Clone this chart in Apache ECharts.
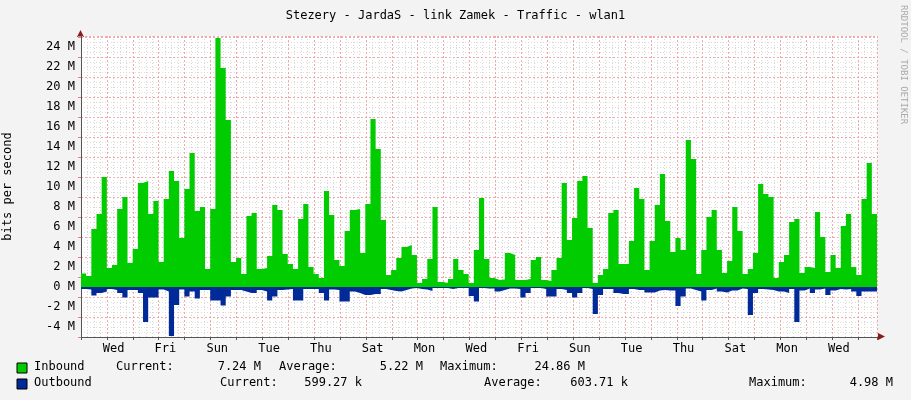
<!DOCTYPE html>
<html>
<head>
<meta charset="utf-8">
<script src="https://cdn.jsdelivr.net/npm/echarts@6/dist/echarts.min.js"></script>
<style>
  html, body { margin: 0; padding: 0; background: #f3f3f3; }
  #chart { width: 911px; height: 400px; }
</style>
</head>
<body>
<div id="chart"></div>
<script>
// values in Mbit/s, one per rrd step (about 4.9 h)
var inbound = [
  1.35, 1.1, 5.8, 7.3, 11.0, 1.9, 2.2, 7.8, 9.0, 2.4, 3.8, 10.4, 10.6, 7.3, 8.6, 2.5, 8.8, 11.6, 10.6, 4.9,
  9.8, 13.4, 7.6, 8.0, 1.8, 7.8, 24.9, 21.9, 16.7, 2.5, 2.9, 1.3, 7.1, 7.4, 1.8, 1.9, 3.1, 8.2, 7.7,
  3.3, 2.3, 1.8, 6.8, 8.3, 2.0, 1.3, 0.9, 9.6, 7.2, 2.7, 2.1, 5.6, 7.7, 7.8, 3.4, 8.3, 16.8, 13.8, 6.7,
  1.2, 1.7, 2.9, 4.0, 4.2, 3.2, 0.4, 0.8, 2.8, 8.0, 0.5, 0.4, 0.8, 2.8, 1.7, 1.3, 0.4, 3.7,
  8.9, 2.8, 0.9, 0.7, 0.75, 3.4, 3.2, 0.7, 0.7, 0.8, 2.7, 3.0, 0.7, 0.6, 1.7, 2.9, 10.4, 4.7, 6.9, 10.6,
  11.1, 5.9, 0.4, 1.2, 1.8, 7.4, 7.7, 2.3, 2.3, 4.6, 9.9, 8.8, 1.7, 4.6, 8.2, 11.3, 6.6, 3.5, 4.9,
  3.7, 14.7, 12.8, 1.3, 3.7, 7.0, 7.7, 3.7, 1.4, 2.6, 8.0, 5.6, 1.3, 1.8, 3.4, 10.3, 9.3, 9.0, 0.9,
  2.5, 3.2, 6.5, 6.8, 1.4, 2.0, 1.9, 7.5, 5.0, 1.5, 3.2, 1.9, 6.1, 7.3, 2.0, 1.2, 8.8, 12.4, 7.3
];
var outbound = [
  -0.2, -0.25, -0.85, -0.6, -0.45, -0.2, -0.3, -0.6, -1.05, -0.3, -0.3, -0.6, -3.5, -1.05, -1.05, -0.25,
  -0.45, -4.9, -1.8, -0.25, -0.95, -0.45, -1.15, -0.3, -0.3, -1.35, -1.35, -1.85, -0.95, -0.3, -0.3, -0.45,
  -0.6, -0.6, -0.3, -0.45, -1.35, -0.95,
  -0.3, -0.25, -0.2, -1.35, -1.35, -0.2, -0.2, -0.2, -0.6, -1.35, -0.25, -0.3, -1.45, -1.45, -0.45, -0.6,
  -0.8, -0.8, -0.7, -0.7, -0.2, -0.3, -0.4, -0.45, -0.3, -0.15, -0.1, -0.2, -0.25, -0.4, -0.1, -0.1, -0.1,
  -0.2, -0.1, -0.1, -0.1,
  -0.9, -1.45, -0.1, -0.15, -0.15, -0.45, -0.3, -0.15, -0.15, -0.2, -1.05, -0.6, -0.1, -0.1, -0.2, -0.95,
  -0.95, -0.2, -0.3, -0.6, -1.05, -0.6, -0.1, -0.2, -2.7, -0.8, -0.2, -0.2, -0.6, -0.7, -0.7, -0.2, -0.3,
  -0.3, -0.55, -0.55, -0.35, -0.3, -0.35,
  -0.35, -1.9, -0.95, -0.15, -0.3, -0.45, -1.35, -0.3, -0.15, -0.45, -0.55, -0.35, -0.35, -0.15, -0.2,
  -2.8, -0.6, -0.2, -0.25, -0.3, -0.45, -0.45, -0.6, -0.2, -3.5, -0.35, -0.15, -0.6, -0.25, -0.15, -0.8,
  -0.35, -0.2, -0.25, -0.2, -0.45, -0.9, -0.45
];
var dayLabels = ['Wed', 'Fri', 'Sun', 'Tue', 'Thu', 'Sat', 'Mon', 'Wed', 'Fri', 'Sun', 'Tue', 'Thu', 'Sat', 'Mon', 'Wed'];
var yTicks = [-4, -2, 0, 2, 4, 6, 8, 10, 12, 14, 16, 18, 20, 22, 24];

var xMin = -0.76, xMax = 29.97;
var step = (xMax - xMin) / inbound.length;

function stepData(vals) {
  var d = vals.map(function (v, i) { return [xMin + i * step, v]; });
  d.push([xMax, vals[vals.length - 1]]);
  return d;
}
var labelPos = dayLabels.map(function (d, i) { return 0.5 + 2 * i; });

var mono = 'DejaVu Sans Mono';
var chart = echarts.init(document.getElementById('chart'));

function txt(x, y, s, align) {
  return { type: 'text', left: align === 'right' ? null : x, right: align === 'right' ? 911 - x : null, top: y,
    style: { text: s, font: '12px "DejaVu Sans Mono"', fill: '#000' } };
}

chart.setOption({
  backgroundColor: '#f3f3f3',
  animation: false,
  title: {
    text: 'Stezery - JardaS - link Zamek - Traffic - wlan1',
    left: 'center', top: 5,
    textStyle: { fontFamily: mono, fontSize: 12, fontWeight: 'normal', color: '#000' }
  },
  grid: { left: 81, right: 34, top: 36, bottom: 63, show: true, backgroundColor: '#fff', borderWidth: 0,
    containLabel: false, outerBoundsMode: 'none' },
  xAxis: {
    type: 'value', min: xMin, max: xMax, interval: 1,
    axisLine: { onZero: false, lineStyle: { color: '#555' } },
    axisTick: { show: true, lineStyle: { color: '#555' }, length: 3 },
    axisLabel: {
      customValues: labelPos,
      formatter: function (v) { return dayLabels[Math.round((v - 0.5) / 2)]; },
      fontFamily: mono, fontSize: 12, color: '#000', margin: 6
    },
    splitLine: { show: true, lineStyle: { color: '#f0a8a8', type: [2, 2] } },
    minorTick: { show: false, splitNumber: 4 },
    minorSplitLine: { show: true, lineStyle: { color: '#d6d6d6', type: [1, 2] } }
  },
  yAxis: {
    type: 'value', min: -5, max: 25.1, interval: 2,
    name: 'bits per second', nameLocation: 'middle', nameGap: 67, nameRotate: 90,
    nameTextStyle: { fontFamily: mono, fontSize: 12, color: '#000' },
    axisLine: { show: true, onZero: false, lineStyle: { color: '#555' } },
    axisTick: { show: true, length: 3, lineStyle: { color: '#e08080' } },
    axisLabel: {
      customValues: yTicks,
      formatter: function (v) { return v + ' M'; },
      fontFamily: mono, fontSize: 12, color: '#000', margin: 6
    },
    splitLine: { show: true, lineStyle: { color: '#f0a8a8', type: [2, 2] } },
    minorTick: { show: false, splitNumber: 4 },
    minorSplitLine: { show: true, lineStyle: { color: '#dcdcdc', type: [1, 2] } }
  },
  series: [
    {
      name: 'Inbound', type: 'line', step: 'end', data: stepData(inbound), symbol: 'none',
      lineStyle: { width: 0 }, areaStyle: { color: '#00cc00', opacity: 1, origin: 0 }
    },
    {
      name: 'Outbound', type: 'line', step: 'end', data: stepData(outbound), symbol: 'none',
      lineStyle: { width: 0 }, areaStyle: { color: '#002a97', opacity: 1, origin: 0 }
    }
  ],
  graphic: [
    { type: 'polygon', shape: { points: [[77, 37], [84, 37], [80.5, 30]] }, style: { fill: '#8b1a1a' } },
    { type: 'polygon', shape: { points: [[878, 333], [878, 340], [885, 336.5]] }, style: { fill: '#8b1a1a' } },
    { type: 'text', x: 908, y: 5, rotation: -Math.PI / 2,
      style: { text: 'RRDTOOL / TOBI OETIKER', font: '9px "DejaVu Sans Mono"', fill: '#aaa' } },
    { type: 'rect', shape: { x: 17, y: 363, width: 10, height: 10 }, style: { fill: '#00cc00', stroke: '#000', lineWidth: 1 } },
    { type: 'rect', shape: { x: 17, y: 379, width: 10, height: 10 }, style: { fill: '#002a97', stroke: '#000', lineWidth: 1 } },
    txt(34, 361, 'Inbound'), txt(116, 361, 'Current:'), txt(261, 361, '7.24 M', 'right'),
    txt(279, 361, 'Average:'), txt(423, 361, '5.22 M', 'right'),
    txt(440, 361, 'Maximum:'), txt(585, 361, '24.86 M', 'right'),
    txt(34, 377, 'Outbound'), txt(220, 377, 'Current:'), txt(362, 377, '599.27 k', 'right'),
    txt(484, 377, 'Average:'), txt(628, 377, '603.71 k', 'right'),
    txt(749, 377, 'Maximum:'), txt(893, 377, '4.98 M', 'right')
  ]
});
</script>
</body>
</html>
